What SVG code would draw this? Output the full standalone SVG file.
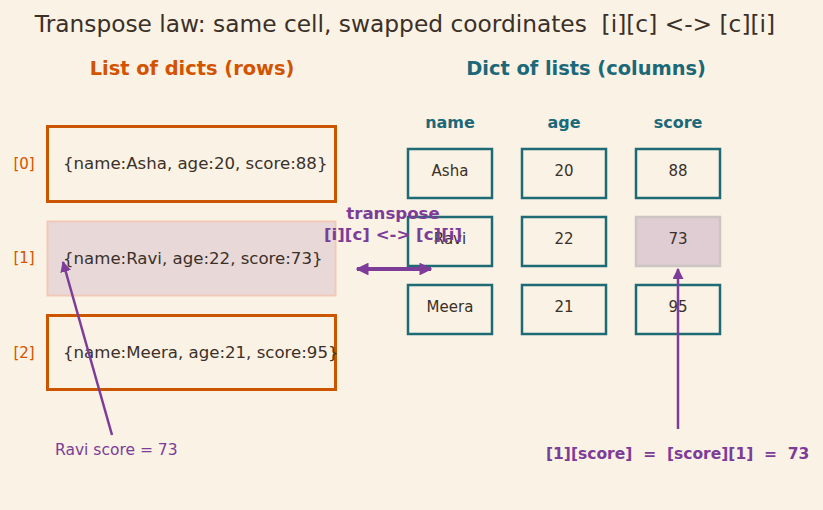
<svg xmlns="http://www.w3.org/2000/svg" width="823" height="510" viewBox="0 0 823 510">
<defs>
<style>
text{font-family:"DejaVu Sans","Liberation Sans",sans-serif;}
.title{font-size:23.3px;fill:#3a3028;white-space:pre;}
.hl{font-size:19.4px;font-weight:bold;fill:#d35400;}
.hr{font-size:19.4px;font-weight:bold;fill:#1a6878;}
.row{fill:none;stroke:#cc5500;stroke-width:3;}
.rowhl{fill:#e8d9d8;stroke:#f2c9b8;stroke-width:2;}
.idx{font-size:15px;fill:#d35400;text-anchor:middle;}
.rt{font-size:16.6px;fill:#3a3028;}
.cell{fill:none;stroke:#1f6b75;stroke-width:2.5;}
.cellhl{fill:#e0ccd3;stroke:#cbc6c4;stroke-width:2.5;}
.ct{font-size:15px;fill:#3a3028;text-anchor:middle;}
.ch{font-size:16px;font-weight:bold;fill:#1a6878;text-anchor:middle;}
.pl{font-size:16.6px;font-weight:bold;fill:#7d3c98;text-anchor:middle;}
.conn{stroke:#7d3c98;fill:none;}
</style>
<marker id="ah" viewBox="0 0 10 10" refX="9" refY="5" markerWidth="4.4" markerHeight="4.4" orient="auto-start-reverse" markerUnits="strokeWidth">
<path d="M0,0 L10,5 L0,10 z" fill="#7d3c98"/>
</marker>
<marker id="ah2" viewBox="0 0 10 10" refX="9" refY="5" markerWidth="3.2" markerHeight="3.2" orient="auto-start-reverse" markerUnits="strokeWidth">
<path d="M0,0 L10,5 L0,10 z" fill="#7d3c98"/>
</marker>
</defs>
<rect width="823" height="510" fill="#faf2e4"/>
<text class="title" x="405" y="32" text-anchor="middle">Transpose law: same cell, swapped coordinates  [i][c] &lt;-&gt; [c][i]</text>
<text class="hl" x="192" y="75" text-anchor="middle">List of dicts (rows)</text>
<text class="hr" x="586" y="75" text-anchor="middle">Dict of lists (columns)</text>

<g id="row0"><text class="idx" x="24" y="169">[0]</text><rect class="row" x="47.5" y="126.5" width="288" height="75"/><text class="rt" x="63" y="169">{name:Asha, age:20, score:88}</text></g>
<g id="row1"><text class="idx" x="24" y="263">[1]</text><rect class="rowhl" x="47.5" y="221.5" width="288" height="74"/><text class="rt" x="63" y="264">{name:Ravi, age:22, score:73}</text></g>
<g id="row2"><text class="idx" x="24" y="358">[2]</text><rect class="row" x="47.5" y="315.5" width="288" height="74"/><text class="rt" x="63" y="358">{name:Meera, age:21, score:95}</text></g>

<g id="col-name"><text class="ch" x="450" y="128">name</text>
<rect class="cell" x="408" y="149" width="84" height="49"/><text class="ct" x="450" y="176">Asha</text>
<rect class="cell" x="408" y="217" width="84" height="49"/><text class="ct" x="450" y="244">Ravi</text>
<rect class="cell" x="408" y="285" width="84" height="49"/><text class="ct" x="450" y="312">Meera</text></g>
<g id="col-age"><text class="ch" x="564" y="128">age</text>
<rect class="cell" x="522" y="149" width="84" height="49"/><text class="ct" x="564" y="176">20</text>
<rect class="cell" x="522" y="217" width="84" height="49"/><text class="ct" x="564" y="244">22</text>
<rect class="cell" x="522" y="285" width="84" height="49"/><text class="ct" x="564" y="312">21</text></g>
<g id="col-score"><text class="ch" x="678" y="128">score</text>
<rect class="cell" x="636" y="149" width="84" height="49"/><text class="ct" x="678" y="176">88</text>
<rect class="cellhl" x="636" y="217" width="84" height="49"/><text class="ct" x="678" y="244">73</text>
<rect class="cell" x="636" y="285" width="84" height="49"/><text class="ct" x="678" y="312">95</text></g>

<g id="connectors">
<line class="conn" x1="357" y1="269" x2="431" y2="269" stroke-width="4" marker-start="url(#ah2)" marker-end="url(#ah2)"/>
<line class="conn" x1="112" y1="435" x2="63" y2="262" stroke-width="2.5" marker-end="url(#ah)"/>
<line class="conn" x1="678" y1="429" x2="678" y2="269" stroke-width="2.5" marker-end="url(#ah)"/>
</g>
<g id="labels">
<text class="pl" x="393" y="219">transpose</text>
<text class="pl" x="393" y="240">[i][c] &lt;-&gt; [c][i]</text>
<text x="55" y="455" font-size="15.5" fill="#7d3c98">Ravi score = 73</text>
<text x="546" y="459" font-size="15.5" font-weight="bold" fill="#7d3c98" style="white-space:pre">[1][score]  =  [score][1]  =  73</text>
</g>
</svg>
